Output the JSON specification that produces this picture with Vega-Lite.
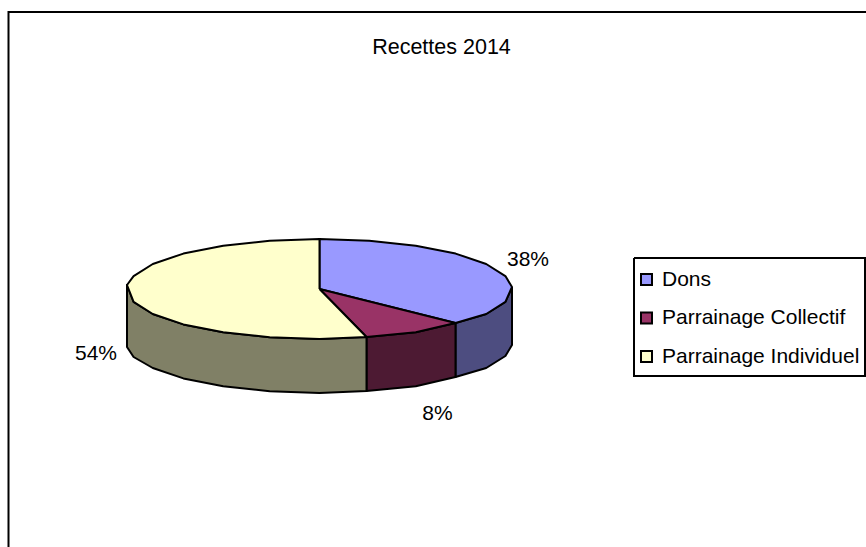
{
"$schema":"https://vega.github.io/schema/vega-lite/v6.json",
"width":866,"height":547,"padding":0,"autosize":{"type":"none"},
"background":"white",
"view":{"stroke":null},
"title":{"text":"Recettes 2014","font":"Liberation Sans","fontSize":21.5,"fontWeight":"normal","color":"black","anchor":"middle","frame":"group","dx":8.5,"dy":58,"offset":0},
"datasets":{
"frame":[{"x":-311,"y":-262,"i":0},{"x":-311,"y":277,"i":1},{"x":552,"y":277,"i":2}],
"legendBox":[{"x":314.5,"y":31,"i":0},{"x":545.5,"y":31,"i":1},{"x":545.5,"y":-87,"i":2},{"x":314.5,"y":-87,"i":3},{"x":314.5,"y":31,"i":4}],
"labels":[{"slice":"Dons","share":0.38,"x":208.5,"y":29},{"slice":"Parrainage Collectif","share":0.08,"x":118,"y":-125},{"slice":"Parrainage Individuel","share":0.54,"x":-223.5,"y":-65}],
"side":[
{"slice":"Dons","i":0,"x":192.5,"y":2},{"slice":"Dons","i":1,"x":185.9,"y":-12.9},{"slice":"Dons","i":2,"x":166.7,"y":-25},{"slice":"Dons","i":3,"x":136,"y":-34},{"slice":"Dons","i":4,"x":136,"y":-88},{"slice":"Dons","i":5,"x":166.7,"y":-79},{"slice":"Dons","i":6,"x":185.9,"y":-67},{"slice":"Dons","i":7,"x":192.5,"y":-56},{"slice":"Dons","i":8,"x":192.5,"y":2},
{"slice":"Parrainage Collectif","i":0,"x":136,"y":-34},{"slice":"Parrainage Collectif","i":1,"x":96.3,"y":-43.3},{"slice":"Parrainage Collectif","i":2,"x":47,"y":-48},{"slice":"Parrainage Collectif","i":3,"x":47,"y":-102},{"slice":"Parrainage Collectif","i":4,"x":96.3,"y":-97.3},{"slice":"Parrainage Collectif","i":5,"x":136,"y":-88},{"slice":"Parrainage Collectif","i":6,"x":136,"y":-34},
{"slice":"Parrainage Individuel","i":0,"x":47,"y":-48},{"slice":"Parrainage Individuel","i":1,"x":0,"y":-50},{"slice":"Parrainage Individuel","i":2,"x":-49.8,"y":-48.3},{"slice":"Parrainage Individuel","i":3,"x":-96.3,"y":-43.3},{"slice":"Parrainage Individuel","i":4,"x":-136.1,"y":-35.4},{"slice":"Parrainage Individuel","i":5,"x":-166.7,"y":-25},{"slice":"Parrainage Individuel","i":6,"x":-185.9,"y":-12.9},{"slice":"Parrainage Individuel","i":7,"x":-192.5,"y":4},{"slice":"Parrainage Individuel","i":8,"x":-192.5,"y":-58},{"slice":"Parrainage Individuel","i":9,"x":-185.9,"y":-68},{"slice":"Parrainage Individuel","i":10,"x":-166.7,"y":-79},{"slice":"Parrainage Individuel","i":11,"x":-136.1,"y":-89.4},{"slice":"Parrainage Individuel","i":12,"x":-96.3,"y":-97.3},{"slice":"Parrainage Individuel","i":13,"x":-49.8,"y":-102.3},{"slice":"Parrainage Individuel","i":14,"x":0,"y":-104},{"slice":"Parrainage Individuel","i":15,"x":47,"y":-102},{"slice":"Parrainage Individuel","i":16,"x":47,"y":-48}
],
"top":[
{"slice":"Dons","i":0,"x":0,"y":0},{"slice":"Dons","i":1,"x":0,"y":50},{"slice":"Dons","i":2,"x":49.8,"y":48.3},{"slice":"Dons","i":3,"x":96.3,"y":43.3},{"slice":"Dons","i":4,"x":136.1,"y":35.4},{"slice":"Dons","i":5,"x":166.7,"y":25},{"slice":"Dons","i":6,"x":185.9,"y":12.9},{"slice":"Dons","i":7,"x":192.5,"y":2},{"slice":"Dons","i":8,"x":185.9,"y":-12.9},{"slice":"Dons","i":9,"x":166.7,"y":-25},{"slice":"Dons","i":10,"x":136,"y":-34},{"slice":"Dons","i":11,"x":0,"y":0},
{"slice":"Parrainage Collectif","i":0,"x":0,"y":0},{"slice":"Parrainage Collectif","i":1,"x":136,"y":-34},{"slice":"Parrainage Collectif","i":2,"x":96.3,"y":-43.3},{"slice":"Parrainage Collectif","i":3,"x":47,"y":-48},{"slice":"Parrainage Collectif","i":4,"x":0,"y":0},
{"slice":"Parrainage Individuel","i":0,"x":0,"y":0},{"slice":"Parrainage Individuel","i":1,"x":47,"y":-48},{"slice":"Parrainage Individuel","i":2,"x":0,"y":-50},{"slice":"Parrainage Individuel","i":3,"x":-49.8,"y":-48.3},{"slice":"Parrainage Individuel","i":4,"x":-96.3,"y":-43.3},{"slice":"Parrainage Individuel","i":5,"x":-136.1,"y":-35.4},{"slice":"Parrainage Individuel","i":6,"x":-166.7,"y":-25},{"slice":"Parrainage Individuel","i":7,"x":-185.9,"y":-12.9},{"slice":"Parrainage Individuel","i":8,"x":-192.5,"y":4},{"slice":"Parrainage Individuel","i":9,"x":-185.9,"y":12.9},{"slice":"Parrainage Individuel","i":10,"x":-166.7,"y":25},{"slice":"Parrainage Individuel","i":11,"x":-136.1,"y":35.4},{"slice":"Parrainage Individuel","i":12,"x":-96.3,"y":43.3},{"slice":"Parrainage Individuel","i":13,"x":-49.8,"y":48.3},{"slice":"Parrainage Individuel","i":14,"x":0,"y":50},{"slice":"Parrainage Individuel","i":15,"x":0,"y":0}
]
},
"encoding":{
"x":{"field":"x","type":"quantitative","axis":null,"scale":{"domain":[-319.5,546.5],"nice":false,"zero":false}},
"y":{"field":"y","type":"quantitative","axis":null,"scale":{"domain":[-258,289],"nice":false,"zero":false}}
},
"layer":[
{"data":{"name":"frame"},"mark":{"type":"line","stroke":"black","strokeWidth":2,"clip":false},"encoding":{"order":{"field":"i","type":"ordinal"}}},
{"data":{"name":"legendBox"},"mark":{"type":"line","stroke":"black","strokeWidth":2,"clip":false},"encoding":{"order":{"field":"i","type":"ordinal"}}},
{"data":{"name":"side"},"mark":{"type":"line","stroke":"black","strokeWidth":2,"strokeJoin":"round"},
 "encoding":{"order":{"field":"i","type":"quantitative"},"fill":{"field":"slice","type":"nominal","legend":null,"scale":{"domain":["Dons","Parrainage Collectif","Parrainage Individuel"],"range":["#4D4D80","#4D1A33","#808066"]}}}},
{"data":{"name":"top"},"mark":{"type":"line","stroke":"black","strokeWidth":2,"strokeJoin":"round"},
 "encoding":{"order":{"field":"i","type":"quantitative"},"fill":{"field":"slice","type":"nominal","title":null,
   "scale":{"domain":["Dons","Parrainage Collectif","Parrainage Individuel"],"range":["#9999FF","#993366","#FFFFCC"]},
   "legend":{"orient":"none","legendX":636,"legendY":269,"symbolType":"square","symbolSize":121,"symbolStrokeColor":"black","symbolStrokeWidth":2,"labelFont":"Liberation Sans","labelFontSize":21,"labelColor":"black","labelLimit":300,"padding":0,"rowPadding":16.5,"labelOffset":5}}}},
{"data":{"name":"labels"},"mark":{"type":"text","font":"Liberation Sans","fontSize":21,"color":"black","baseline":"middle"},"encoding":{"text":{"field":"share","type":"quantitative","format":".0%"}}}
],
"resolve":{"scale":{"fill":"independent"}}
}
